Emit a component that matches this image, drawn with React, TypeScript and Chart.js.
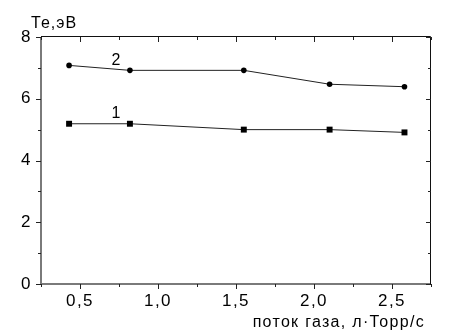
import React, { useEffect, useRef } from 'react';
import { Chart, registerables } from 'chart.js';
Chart.register(...registerables);

const flow1 = [0.43, 0.82, 1.55, 2.10, 2.58];
const te1 = [5.19, 5.19, 5.0, 5.0, 4.91];
const flow2 = [0.43, 0.82, 1.55, 2.10, 2.58];
const te2 = [7.08, 6.92, 6.92, 6.47, 6.39];
const curveNames = ['1', '2'];
const curveNameX = [0.73, 0.73];
const curveNameY = [5.38, 7.09];
const xMin = 0.25, xMax = 2.75, xStep = 0.25, xMajor = 0.5;
const yMin = 0, yMax = 8, yStep = 1, yMajor = 2;
const yTitle = 'Те,эВ';
const xTitle = 'поток газа, л·Торр/с';

const FONT = '"Liberation Sans", Arial, sans-serif';
const isMult = (v: number, m: number) => Math.abs(v / m - Math.round(v / m)) < 1e-6;

const framePlugin = {
  id: 'frame',
  beforeDraw(chart: any) {
    (chart.ctx as any).letterSpacing = '1.5px';
  },
  afterDraw(chart: any) {
    const ctx = chart.ctx as CanvasRenderingContext2D;
    const { left, right, top, bottom } = chart.chartArea;
    const xs = chart.scales.x;
    const ys = chart.scales.y;
    ctx.save();
    // axes
    ctx.lineWidth = 2;
    ctx.strokeStyle = '#7a7a7a';
    ctx.beginPath();
    ctx.moveTo(left, top);
    ctx.lineTo(left, bottom);
    ctx.lineTo(right, bottom);
    ctx.stroke();
    ctx.lineWidth = 1;
    ctx.strokeStyle = '#111';
    ctx.beginPath();
    ctx.moveTo(left, top - 0.5);
    ctx.lineTo(right - 0.5, top - 0.5);
    ctx.lineTo(right - 0.5, bottom + 1);
    ctx.stroke();
    // x ticks
    ctx.strokeStyle = '#222';
    for (let v = xMin; v <= xMax + 1e-9; v += xStep) {
      const p = Math.round(xs.getPixelForValue(v)) + 0.5;
      const len = isMult(v, xMajor) ? 5 : 3;
      ctx.beginPath();
      ctx.moveTo(p, bottom);
      ctx.lineTo(p, bottom + len);
      ctx.moveTo(p, top);
      ctx.lineTo(p, top + len);
      ctx.stroke();
    }
    for (let v = yMin; v <= yMax + 1e-9; v += yStep) {
      const p = Math.round(ys.getPixelForValue(v)) + 0.5;
      const len = isMult(v, yMajor) ? 5 : 3;
      ctx.beginPath();
      ctx.moveTo(left, p);
      ctx.lineTo(left - len, p);
      ctx.moveTo(right, p);
      ctx.lineTo(right - len, p);
      ctx.stroke();
    }
    // texts
    ctx.fillStyle = '#000';
    ctx.font = '16px ' + FONT;
    (ctx as any).letterSpacing = '1px';
    ctx.textBaseline = 'alphabetic';
    ctx.textAlign = 'left';
    ctx.fillText(yTitle, 31, 28);
    (ctx as any).letterSpacing = '1.3px';
    ctx.textAlign = 'right';
    ctx.fillText(xTitle, 425, 327);
    (ctx as any).letterSpacing = '0px';
    ctx.textAlign = 'center';
    curveNames.forEach((n, i) => {
      ctx.fillText(n, xs.getPixelForValue(curveNameX[i]), ys.getPixelForValue(curveNameY[i]));
    });
    ctx.restore();
  },
};

export default function App() {
  const ref = useRef<HTMLCanvasElement>(null);
  useEffect(() => {
    if (!ref.current) return;
    const chart = new Chart(ref.current, {
      type: 'line',
      data: {
        datasets: [
          {
            label: curveNames[0],
            data: flow1.map((x, i) => ({ x, y: te1[i] })),
            borderColor: '#222',
            backgroundColor: '#000',
            borderWidth: 1,
            pointStyle: 'rect',
            pointRadius: 4.2,
            pointBorderWidth: 0,
          },
          {
            label: curveNames[1],
            data: flow2.map((x, i) => ({ x, y: te2[i] })),
            borderColor: '#222',
            backgroundColor: '#000',
            borderWidth: 1,
            pointStyle: 'circle',
            pointRadius: 2.8,
            pointBorderWidth: 0,
          },
        ],
      },
      options: {
        animation: false,
        responsive: false,
        layout: { padding: { top: 37, right: 19, left: 0, bottom: 0 } },
        plugins: { legend: { display: false }, tooltip: { enabled: false }, title: { display: false } },
        scales: {
          x: {
            type: 'linear',
            min: xMin,
            max: xMax,
            afterFit: (s: any) => { s.height = 49; },
            grid: { display: true, drawOnChartArea: false, drawTicks: false },
            border: { display: false },
            ticks: {
              stepSize: xStep,
              autoSkip: false,
              maxRotation: 0,
              padding: 7,
              color: '#000',
              font: { family: FONT, size: 17 },
              callback: (v: any) => (isMult(Number(v), xMajor) ? Number(v).toFixed(1).replace('.', ',') : ''),
            },
          },
          y: {
            type: 'linear',
            min: yMin,
            max: yMax,
            afterFit: (s: any) => { s.width = 41; },
            grid: { display: true, drawOnChartArea: false, drawTicks: false },
            border: { display: false },
            ticks: {
              stepSize: yStep,
              autoSkip: false,
              padding: 9,
              color: '#000',
              font: { family: FONT, size: 17 },
              callback: (v: any) => (isMult(Number(v), yMajor) ? String(v) : ''),
            },
          },
        },
      },
      plugins: [framePlugin],
    });
    return () => chart.destroy();
  }, []);
  return (
    <div style={{ position: 'fixed', left: 0, top: 0, width: 450, height: 333, background: '#fff' }}>
      <canvas ref={ref} width={450} height={333} style={{ display: 'block' }} />
    </div>
  );
}
